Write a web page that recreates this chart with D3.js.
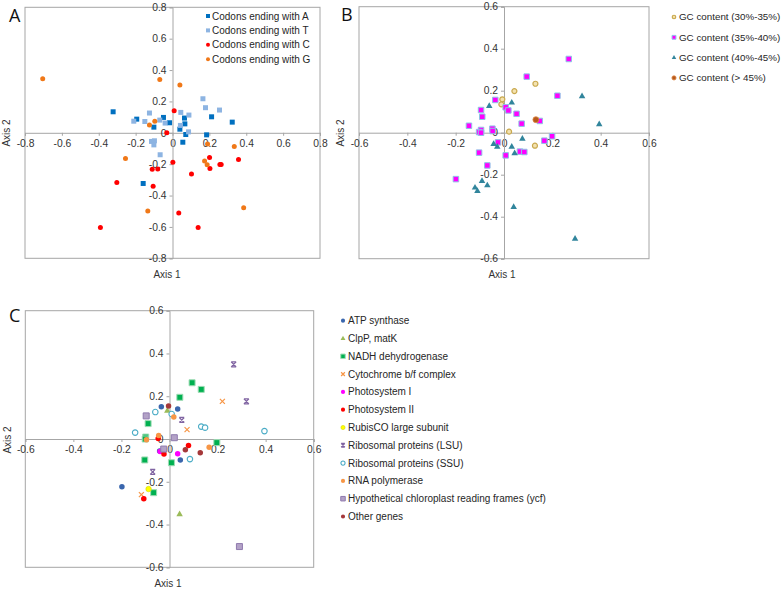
<!DOCTYPE html>
<html><head><meta charset="utf-8">
<script src="https://cdn.jsdelivr.net/npm/d3@7"></script>
<style>body{margin:0;background:#fff}svg{display:block;font-family:"Liberation Sans",Arial,sans-serif}</style>
</head><body><svg id="c" width="784" height="589"></svg>
<script>
// ---------------- DATA ----------------
const ticksA = ["-0.8","-0.6","-0.4","-0.2","0","0.2","0.4","0.6","0.8"];
const ticksBC = ["-0.6","-0.4","-0.2","0","0.2","0.4","0.6"];
const axisTitles = ["Axis 1","Axis 2"];

// Panel A
const namesA = ["Codons ending with A","Codons ending with T","Codons ending with C","Codons ending with G"];
const codonA = [[-0.322,0.134],[-0.194,0.087],[-0.101,0.036],[-0.049,0.098],[-0.016,0.064],[0.065,0.094],[0.067,0.057],[0.040,0.023],[0.072,-0.011],[0.056,-0.060],[0.185,-0.013],[0.212,0.102],[0.324,0.068],[-0.159,-0.323]];
const codonT = [[-0.210,0.074],[-0.150,0.072],[-0.125,0.126],[-0.069,0.081],[-0.040,0.062],[-0.114,-0.055],[-0.098,-0.051],[-0.101,-0.077],[-0.067,-0.140],[0.045,0.130],[0.043,0.047],[0.089,0.113],[0.087,0.006],[0.165,0.217],[0.179,0.160],[0.255,0.145]];
const codonC = [[0.009,0.140],[-0.031,0.0],[0.002,-0.187],[-0.080,-0.230],[-0.110,-0.232],[-0.105,-0.340],[-0.302,-0.317],[-0.391,-0.604],[0.034,-0.511],[0.103,-0.262],[0.139,-0.604],[0.201,-0.157],[0.203,-0.228],[0.257,-0.202],[0.264,-0.202],[0.358,-0.170]];
const codonG = [[-0.704,0.345],[-0.069,0.340],[0.040,0.304],[-0.096,0.074],[-0.125,0.049],[-0.255,-0.164],[-0.134,-0.498],[0.174,-0.179],[0.188,-0.204],[0.190,-0.072],[0.335,-0.087],[0.386,-0.477]];

// Panel B
const namesB = ["GC content (30%-35%)","GC content (35%-40%)","GC content (40%-45%)","GC content (> 45%)"];
const gc30 = [[0.043,0.198],[0.130,0.233],[-0.007,0.159],[-0.011,0.135],[0.021,0.005],[0.128,-0.062]];
const gc35 = [[0.268,0.351],[0.094,0.267],[0.221,0.176],[-0.036,0.156],[0.007,0.121],[0.018,0.106],[-0.095,0.108],[-0.090,0.076],[0.052,0.090],[-0.145,0.033],[0.073,0.043],[0.148,0.056],[-0.095,0.013],[-0.103,0.003],[-0.095,0.0],[-0.048,0.019],[-0.047,0.008],[-0.025,-0.046],[0.167,-0.038],[0.199,-0.017],[0.066,-0.090],[0.084,-0.092],[0.007,-0.108],[-0.103,-0.095],[-0.069,-0.156],[-0.199,-0.221]];
const gc40 = [[-0.061,0.127],[0.032,0.143],[0.323,0.173],[0.394,0.040],[0.076,-0.029],[0.032,-0.067],[-0.043,-0.054],[-0.028,-0.067],[0.044,-0.098],[-0.091,-0.230],[-0.069,-0.251],[-0.120,-0.262],[-0.110,-0.278],[0.040,-0.354],[0.294,-0.505]];
const gc45 = [[0.132,0.062]];

// Panel C
const namesC = ["ATP synthase","ClpP, matK","NADH dehydrogenase","Cytochrome b/f complex","Photosystem I","Photosystem II","RubisCO large subunit","Ribosomal proteins (LSU)","Ribosomal proteins (SSU)","RNA polymerase","Hypothetical chloroplast reading frames (ycf)","Other genes"];
const atp = [[-0.034,0.151],[0.034,0.140],[-0.041,-0.056],[0.045,-0.098],[-0.198,-0.223]];
const clp = [[-0.009,0.132],[0.042,-0.352]];
const nadh = [[0.094,0.263],[0.132,0.232],[0.043,0.195],[-0.089,0.072],[-0.099,0.009],[-0.101,0.0],[0.197,-0.017],[0.008,-0.111],[-0.103,-0.098],[-0.066,-0.251]];
const cyt = [[0.220,0.176],[0.073,0.044],[-0.117,-0.260]];
const ps1 = [[-0.039,-0.058],[0.034,-0.069]];
const ps2 = [[0.079,-0.030],[-0.023,-0.070],[-0.107,-0.279],[-0.047,0.002]];
const rubisco = [[-0.087,-0.234]];
const lsu = [[0.267,0.349],[0.320,0.176],[0.051,0.089],[-0.070,-0.154]];
const ssu = [[-0.059,0.126],[0.009,0.117],[-0.143,0.030],[0.132,0.058],[0.148,0.053],[0.085,-0.094],[0.395,0.037]];
const rnap = [[0.018,0.103],[-0.045,0.016],[-0.096,-0.003],[0.165,-0.039]];
const ycf = [[-0.097,0.108],[0.020,0.006],[-0.024,-0.047],[0.291,-0.503]];
const other = [[-0.004,0.154],[0.066,-0.050],[0.128,-0.064]];

// ---------------- DRAW ----------------
const svg = d3.select("#c");
const TXT = "#333";
const AX = "#a6a6a6";
const FS = "10px";

function markerPath(type, s){
  if(type==="square") return d3.symbol(d3.symbolSquare, s*s)();
  if(type==="circle") return d3.symbol(d3.symbolCircle, Math.PI*(s/2)*(s/2))();
  if(type==="triangle") return d3.symbol(d3.symbolTriangle, s*s*0.433)();
  const h=s/2;
  if(type==="x") return `M${-h},${-h}L${h},${h}M${-h},${h}L${h},${-h}`;
  if(type==="star") return `M${-h},${-h}L${h},${h}M${-h},${h}L${h},${-h}M${-h},${-h}L${h},${-h}M${-h},${h}L${h},${h}`;
}
function drawMarker(g, st, x, y, sizeScale){
  const s = st.size*(sizeScale||1);
  g.append("path").attr("d", markerPath(st.type, s))
    .attr("transform",`translate(${x},${y})`)
    .attr("fill", (st.type==="x"||st.type==="star")?"none":st.fill)
    .attr("stroke", st.stroke||"none")
    .attr("stroke-width", st.sw||1);
}

function panel(cfg){
  const g = svg.append("g");
  const x = d3.scaleLinear().domain(cfg.domain).range([cfg.x0,cfg.x1]);
  const y = d3.scaleLinear().domain(cfg.domain).range([cfg.y1,cfg.y0]);
  g.append("rect").attr("x",cfg.x0).attr("y",cfg.y0).attr("width",cfg.x1-cfg.x0).attr("height",cfg.y1-cfg.y0)
    .attr("fill","none").attr("stroke",AX).attr("stroke-width",1);
  const tv = cfg.ticks.map(Number);
  const xa = g.append("g").attr("transform",`translate(0,${y(0)})`)
    .call(d3.axisBottom(x).tickValues(tv).tickFormat((d,i)=>cfg.ticks[i]).tickSize(3).tickPadding(4));
  const ya = g.append("g").attr("transform",`translate(${x(0)},0)`)
    .call(d3.axisLeft(y).tickValues(tv).tickFormat((d,i)=>cfg.ticks[i]).tickSize(3).tickPadding(3));
  [xa,ya].forEach(a=>{
    a.select(".domain").attr("stroke",AX);
    a.selectAll(".tick line").attr("stroke",AX);
    a.selectAll("text").attr("fill",TXT).style("font-size","10.3px").style("font-family",'"Liberation Sans",Arial,sans-serif');
  });
  g.append("text").attr("x",cfg.t1[0]).attr("y",cfg.t1[1]).attr("text-anchor","middle").attr("fill",TXT)
    .style("font-size",FS).text(axisTitles[0]);
  g.append("text").attr("transform",`translate(${cfg.t2[0]},${cfg.t2[1]}) rotate(-90)`).attr("text-anchor","middle").attr("fill",TXT)
    .style("font-size",FS).text(axisTitles[1]);
  g.append("text").attr("x",cfg.lab[0]).attr("y",cfg.lab[1]).attr("fill","#111").style("font-size","18px")
    .style("font-family",'"Open Sans",Arial,sans-serif').text(cfg.letter);
  const pts = g.append("g");
  cfg.series.forEach(s=>{
    s.data.forEach(p=>drawMarker(pts, s.style, x(p[0]), y(p[1])));
  });
  const lg = g.append("g");
  cfg.series.forEach((s,i)=>{
    const yy = cfg.leg.y + i*cfg.leg.dy;
    drawMarker(lg, s.style, cfg.leg.x, yy, cfg.leg.ms);
    lg.append("text").attr("x",cfg.leg.x+cfg.leg.tx).attr("y",yy).attr("dy","0.35em").attr("fill","#262626")
      .style("font-size",cfg.leg.fs||FS).text(s.name);
  });
}

panel({
  letter:"A", lab:[9,22], domain:[-0.8,0.8], ticks:ticksA,
  x0:25, x1:320, y0:7.3, y1:258.3, t1:[167,278], t2:[10,133],
  leg:{x:208,y:16,dy:14.4,tx:4,ms:0.8},
  series:[
    {name:namesA[0], data:codonA, style:{type:"square",size:5,fill:"#0070c0"}},
    {name:namesA[1], data:codonT, style:{type:"square",size:5,fill:"#8db4e2"}},
    {name:namesA[2], data:codonC, style:{type:"circle",size:5,fill:"#ff0000"}},
    {name:namesA[3], data:codonG, style:{type:"circle",size:5,fill:"#f07818"}}
  ]
});

panel({
  letter:"B", lab:[341,21], domain:[-0.6,0.6], ticks:ticksBC,
  x0:359, x1:649, y0:6.7, y1:258.7, t1:[502,278], t2:[344,133],
  leg:{x:674,y:17,dy:20.3,tx:5,ms:0.7,fs:"9.8px"},
  series:[
    {name:namesB[0], data:gc30, style:{type:"circle",size:5,fill:"#f3e2b0",stroke:"#c9a94f",sw:1.2}},
    {name:namesB[1], data:gc35, style:{type:"square",size:5.5,fill:"#ff00ff",stroke:"#8ec3e6",sw:1}},
    {name:namesB[2], data:gc40, style:{type:"triangle",size:6.5,fill:"#31859c"}},
    {name:namesB[3], data:gc45, style:{type:"circle",size:6,fill:"#b65a1c",stroke:"#e08a4a",sw:0.8}}
  ]
});

panel({
  letter:"C", lab:[9,322], domain:[-0.6,0.6], ticks:ticksBC,
  x0:25.3, x1:313.7, y0:310.7, y1:567.3, t1:[168,587], t2:[11,440],
  leg:{x:343,y:320.7,dy:17.8,tx:5,ms:0.75},
  series:[
    {name:namesC[0], data:atp, style:{type:"circle",size:5.5,fill:"#3a66ad"}},
    {name:namesC[1], data:clp, style:{type:"triangle",size:6.5,fill:"#9bbb59"}},
    {name:namesC[2], data:nadh, style:{type:"square",size:6,fill:"#00b050",stroke:"#9fdcb5",sw:1}},
    {name:namesC[3], data:cyt, style:{type:"x",size:5,stroke:"#f79646",sw:1.2}},
    {name:namesC[4], data:ps1, style:{type:"circle",size:5.5,fill:"#ff00ff"}},
    {name:namesC[5], data:ps2, style:{type:"circle",size:5.5,fill:"#ff0000"}},
    {name:namesC[6], data:rubisco, style:{type:"circle",size:5.5,fill:"#ffff00",stroke:"#d6d600",sw:0.6}},
    {name:namesC[7], data:lsu, style:{type:"star",size:5,stroke:"#8064a2",sw:1.2}},
    {name:namesC[8], data:ssu, style:{type:"circle",size:5.5,fill:"#ffffff",stroke:"#4bacc6",sw:1.1}},
    {name:namesC[9], data:rnap, style:{type:"circle",size:5.5,fill:"#f79646"}},
    {name:namesC[10], data:ycf, style:{type:"square",size:6,fill:"#b3a2c7",stroke:"#8f7aae",sw:1}},
    {name:namesC[11], data:other, style:{type:"circle",size:5.5,fill:"#a5383a"}}
  ]
});
</script></body></html>
